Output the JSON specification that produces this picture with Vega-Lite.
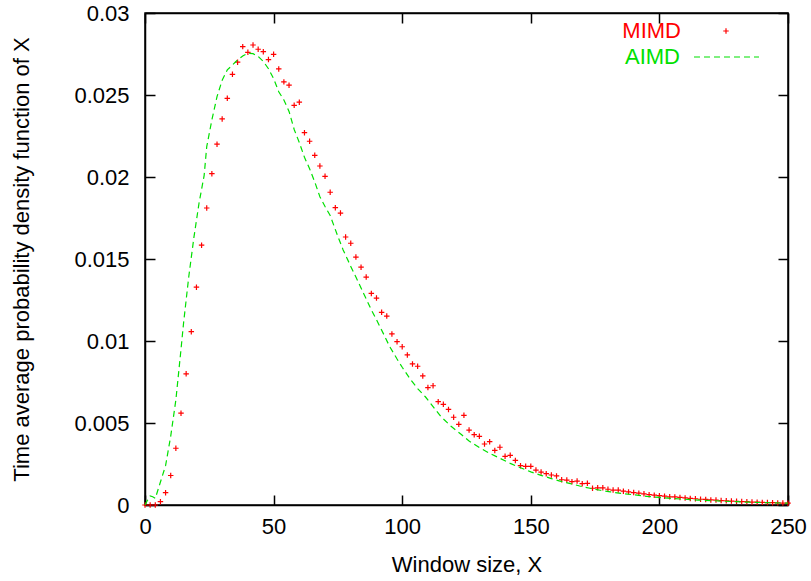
{
  "$schema": "https://vega.github.io/schema/vega-lite/v6.json",
  "width": 643,
  "height": 492,
  "autosize": {"type": "none"},
  "padding": {"left": 145, "top": 13, "right": 23, "bottom": 76},
  "background": "white",
  "config": {
    "font": "Liberation Sans",
    "view": {"stroke": "black", "strokeWidth": 1.5},
    "axis": {
      "grid": false,
      "domainColor": "black",
      "domainWidth": 1.5,
      "tickColor": "black",
      "tickWidth": 1.5,
      "tickSize": -10,
      "labelFont": "Liberation Sans",
      "labelFontSize": 22,
      "labelColor": "black",
      "titleFont": "Liberation Sans",
      "titleFontSize": 22,
      "titleFontWeight": "normal",
      "titleColor": "black"
    },
    "legend": {"labelFont": "Liberation Sans", "labelFontSize": 22}
  },
  "data": {
    "values": [
      {"x": 0, "y": 0, "series": "MIMD"}, {"x": 2, "y": 0, "series": "MIMD"}, {"x": 4, "y": 0, "series": "MIMD"}, {"x": 6, "y": 0.0002, "series": "MIMD"}, {"x": 8, "y": 0.00075, "series": "MIMD"}, {"x": 10, "y": 0.0018, "series": "MIMD"}, {"x": 12, "y": 0.00346, "series": "MIMD"}, {"x": 14, "y": 0.0056, "series": "MIMD"}, {"x": 16, "y": 0.008, "series": "MIMD"}, {"x": 18, "y": 0.01057, "series": "MIMD"}, {"x": 20, "y": 0.01328, "series": "MIMD"}, {"x": 22, "y": 0.01584, "series": "MIMD"}, {"x": 24, "y": 0.01811, "series": "MIMD"}, {"x": 26, "y": 0.0202, "series": "MIMD"}, {"x": 28, "y": 0.022, "series": "MIMD"}, {"x": 30, "y": 0.02354, "series": "MIMD"}, {"x": 32, "y": 0.0248, "series": "MIMD"}, {"x": 34, "y": 0.02626, "series": "MIMD"}, {"x": 36, "y": 0.027, "series": "MIMD"}, {"x": 38, "y": 0.02795, "series": "MIMD"}, {"x": 40, "y": 0.0276, "series": "MIMD"}, {"x": 42, "y": 0.02805, "series": "MIMD"}, {"x": 44, "y": 0.02779, "series": "MIMD"}, {"x": 46, "y": 0.02764, "series": "MIMD"}, {"x": 48, "y": 0.02716, "series": "MIMD"}, {"x": 50, "y": 0.02748, "series": "MIMD"}, {"x": 52, "y": 0.02659, "series": "MIMD"}, {"x": 54, "y": 0.0258, "series": "MIMD"}, {"x": 56, "y": 0.0256, "series": "MIMD"}, {"x": 58, "y": 0.02437, "series": "MIMD"}, {"x": 60, "y": 0.02456, "series": "MIMD"}, {"x": 62, "y": 0.0227, "series": "MIMD"}, {"x": 64, "y": 0.02218, "series": "MIMD"}, {"x": 66, "y": 0.02132, "series": "MIMD"}, {"x": 68, "y": 0.02067, "series": "MIMD"}, {"x": 70, "y": 0.02004, "series": "MIMD"}, {"x": 72, "y": 0.01907, "series": "MIMD"}, {"x": 74, "y": 0.01813, "series": "MIMD"}, {"x": 76, "y": 0.0178, "series": "MIMD"}, {"x": 78, "y": 0.01634, "series": "MIMD"}, {"x": 80, "y": 0.01596, "series": "MIMD"}, {"x": 82, "y": 0.01512, "series": "MIMD"}, {"x": 84, "y": 0.0145, "series": "MIMD"}, {"x": 86, "y": 0.0139, "series": "MIMD"}, {"x": 88, "y": 0.0129, "series": "MIMD"}, {"x": 90, "y": 0.01262, "series": "MIMD"}, {"x": 92, "y": 0.01175, "series": "MIMD"}, {"x": 94, "y": 0.01152, "series": "MIMD"}, {"x": 96, "y": 0.01043, "series": "MIMD"}, {"x": 98, "y": 0.00996, "series": "MIMD"}, {"x": 100, "y": 0.00965, "series": "MIMD"}, {"x": 102, "y": 0.00915, "series": "MIMD"}, {"x": 104, "y": 0.0086, "series": "MIMD"}, {"x": 106, "y": 0.00846, "series": "MIMD"}, {"x": 108, "y": 0.00787, "series": "MIMD"}, {"x": 110, "y": 0.00716, "series": "MIMD"}, {"x": 112, "y": 0.00727, "series": "MIMD"}, {"x": 114, "y": 0.0063, "series": "MIMD"}, {"x": 116, "y": 0.00614, "series": "MIMD"}, {"x": 118, "y": 0.00583, "series": "MIMD"}, {"x": 120, "y": 0.00535, "series": "MIMD"}, {"x": 122, "y": 0.00492, "series": "MIMD"}, {"x": 124, "y": 0.00547, "series": "MIMD"}, {"x": 126, "y": 0.00457, "series": "MIMD"}, {"x": 128, "y": 0.00429, "series": "MIMD"}, {"x": 130, "y": 0.00419, "series": "MIMD"}, {"x": 132, "y": 0.00372, "series": "MIMD"}, {"x": 134, "y": 0.00386, "series": "MIMD"}, {"x": 136, "y": 0.00333, "series": "MIMD"}, {"x": 138, "y": 0.00352, "series": "MIMD"}, {"x": 140, "y": 0.00297, "series": "MIMD"}, {"x": 142, "y": 0.00303, "series": "MIMD"}, {"x": 144, "y": 0.00272, "series": "MIMD"}, {"x": 146, "y": 0.0024, "series": "MIMD"}, {"x": 148, "y": 0.00236, "series": "MIMD"}, {"x": 150, "y": 0.00236, "series": "MIMD"}, {"x": 152, "y": 0.00213, "series": "MIMD"}, {"x": 154, "y": 0.00201, "series": "MIMD"}, {"x": 156, "y": 0.00191, "series": "MIMD"}, {"x": 158, "y": 0.00183, "series": "MIMD"}, {"x": 160, "y": 0.00177, "series": "MIMD"}, {"x": 162, "y": 0.00154, "series": "MIMD"}, {"x": 164, "y": 0.00152, "series": "MIMD"}, {"x": 166, "y": 0.00142, "series": "MIMD"}, {"x": 168, "y": 0.00146, "series": "MIMD"}, {"x": 170, "y": 0.0013, "series": "MIMD"}, {"x": 172, "y": 0.00132, "series": "MIMD"}, {"x": 174, "y": 0.00102, "series": "MIMD"}, {"x": 176, "y": 0.00105, "series": "MIMD"}, {"x": 178, "y": 0.00105, "series": "MIMD"}, {"x": 180, "y": 0.00096, "series": "MIMD"}, {"x": 182, "y": 0.00091, "series": "MIMD"}, {"x": 184, "y": 0.00091, "series": "MIMD"}, {"x": 186, "y": 0.00084, "series": "MIMD"}, {"x": 188, "y": 0.0008, "series": "MIMD"}, {"x": 190, "y": 0.00076, "series": "MIMD"}, {"x": 192, "y": 0.00072, "series": "MIMD"}, {"x": 194, "y": 0.00068, "series": "MIMD"}, {"x": 196, "y": 0.00063, "series": "MIMD"}, {"x": 198, "y": 0.0006, "series": "MIMD"}, {"x": 200, "y": 0.00057, "series": "MIMD"}, {"x": 202, "y": 0.00054, "series": "MIMD"}, {"x": 204, "y": 0.0005, "series": "MIMD"}, {"x": 206, "y": 0.00049, "series": "MIMD"}, {"x": 208, "y": 0.00046, "series": "MIMD"}, {"x": 210, "y": 0.00043, "series": "MIMD"}, {"x": 212, "y": 0.0004, "series": "MIMD"}, {"x": 214, "y": 0.00038, "series": "MIMD"}, {"x": 216, "y": 0.00035, "series": "MIMD"}, {"x": 218, "y": 0.00034, "series": "MIMD"}, {"x": 220, "y": 0.00031, "series": "MIMD"}, {"x": 222, "y": 0.0003, "series": "MIMD"}, {"x": 224, "y": 0.00027, "series": "MIMD"}, {"x": 226, "y": 0.00026, "series": "MIMD"}, {"x": 228, "y": 0.00024, "series": "MIMD"}, {"x": 230, "y": 0.00023, "series": "MIMD"}, {"x": 232, "y": 0.00021, "series": "MIMD"}, {"x": 234, "y": 0.0002, "series": "MIMD"}, {"x": 236, "y": 0.00018, "series": "MIMD"}, {"x": 238, "y": 0.00017, "series": "MIMD"}, {"x": 240, "y": 0.00016, "series": "MIMD"}, {"x": 242, "y": 0.00015, "series": "MIMD"}, {"x": 244, "y": 0.00014, "series": "MIMD"}, {"x": 246, "y": 0.00013, "series": "MIMD"}, {"x": 248, "y": 0.00012, "series": "MIMD"}, {"x": 250, "y": 0.00011, "series": "MIMD"},
      {"x": 0, "y": 0, "series": "AIMD"}, {"x": 1, "y": 0.0003, "series": "AIMD"}, {"x": 2, "y": 0.00055, "series": "AIMD"}, {"x": 3, "y": 0.0005, "series": "AIMD"}, {"x": 4, "y": 0.0004, "series": "AIMD"}, {"x": 5, "y": 0.0009, "series": "AIMD"}, {"x": 6, "y": 0.0014, "series": "AIMD"}, {"x": 8, "y": 0.0024, "series": "AIMD"}, {"x": 10, "y": 0.0042, "series": "AIMD"}, {"x": 12, "y": 0.0064, "series": "AIMD"}, {"x": 14, "y": 0.0095, "series": "AIMD"}, {"x": 15, "y": 0.0111, "series": "AIMD"}, {"x": 17, "y": 0.0139, "series": "AIMD"}, {"x": 19, "y": 0.0163, "series": "AIMD"}, {"x": 21, "y": 0.0184, "series": "AIMD"}, {"x": 23, "y": 0.0201, "series": "AIMD"}, {"x": 24, "y": 0.02185, "series": "AIMD"}, {"x": 26, "y": 0.02348, "series": "AIMD"}, {"x": 28, "y": 0.0249, "series": "AIMD"}, {"x": 30, "y": 0.0259, "series": "AIMD"}, {"x": 32, "y": 0.02653, "series": "AIMD"}, {"x": 34, "y": 0.02683, "series": "AIMD"}, {"x": 36, "y": 0.02714, "series": "AIMD"}, {"x": 38, "y": 0.02738, "series": "AIMD"}, {"x": 40, "y": 0.02754, "series": "AIMD"}, {"x": 42, "y": 0.02752, "series": "AIMD"}, {"x": 44, "y": 0.02735, "series": "AIMD"}, {"x": 46, "y": 0.02705, "series": "AIMD"}, {"x": 48, "y": 0.0266, "series": "AIMD"}, {"x": 50, "y": 0.026, "series": "AIMD"}, {"x": 52, "y": 0.0252, "series": "AIMD"}, {"x": 54, "y": 0.0247, "series": "AIMD"}, {"x": 56, "y": 0.024, "series": "AIMD"}, {"x": 58, "y": 0.0229, "series": "AIMD"}, {"x": 60, "y": 0.0221, "series": "AIMD"}, {"x": 62, "y": 0.0212, "series": "AIMD"}, {"x": 64, "y": 0.0205, "series": "AIMD"}, {"x": 66, "y": 0.0197, "series": "AIMD"}, {"x": 68, "y": 0.0188, "series": "AIMD"}, {"x": 70, "y": 0.0182, "series": "AIMD"}, {"x": 72, "y": 0.01765, "series": "AIMD"}, {"x": 75, "y": 0.01637, "series": "AIMD"}, {"x": 77, "y": 0.01557, "series": "AIMD"}, {"x": 80, "y": 0.01455, "series": "AIMD"}, {"x": 82, "y": 0.0139, "series": "AIMD"}, {"x": 85, "y": 0.0129, "series": "AIMD"}, {"x": 88, "y": 0.0119, "series": "AIMD"}, {"x": 90, "y": 0.0113, "series": "AIMD"}, {"x": 93, "y": 0.01035, "series": "AIMD"}, {"x": 95, "y": 0.0097, "series": "AIMD"}, {"x": 98, "y": 0.0089, "series": "AIMD"}, {"x": 100, "y": 0.0084, "series": "AIMD"}, {"x": 103, "y": 0.0077, "series": "AIMD"}, {"x": 106, "y": 0.0071, "series": "AIMD"}, {"x": 109, "y": 0.0066, "series": "AIMD"}, {"x": 111, "y": 0.0062, "series": "AIMD"}, {"x": 115, "y": 0.0054, "series": "AIMD"}, {"x": 119, "y": 0.0048, "series": "AIMD"}, {"x": 123, "y": 0.0043, "series": "AIMD"}, {"x": 126, "y": 0.0039, "series": "AIMD"}, {"x": 130, "y": 0.0035, "series": "AIMD"}, {"x": 134, "y": 0.00315, "series": "AIMD"}, {"x": 138, "y": 0.00285, "series": "AIMD"}, {"x": 142, "y": 0.00254, "series": "AIMD"}, {"x": 146, "y": 0.00227, "series": "AIMD"}, {"x": 150, "y": 0.00202, "series": "AIMD"}, {"x": 154, "y": 0.00181, "series": "AIMD"}, {"x": 158, "y": 0.00161, "series": "AIMD"}, {"x": 161, "y": 0.00147, "series": "AIMD"}, {"x": 165, "y": 0.00132, "series": "AIMD"}, {"x": 169, "y": 0.00116, "series": "AIMD"}, {"x": 173, "y": 0.00102, "series": "AIMD"}, {"x": 177, "y": 0.0009, "series": "AIMD"}, {"x": 181, "y": 0.0008, "series": "AIMD"}, {"x": 185, "y": 0.00071, "series": "AIMD"}, {"x": 189, "y": 0.00064, "series": "AIMD"}, {"x": 195, "y": 0.00053, "series": "AIMD"}, {"x": 200, "y": 0.00046, "series": "AIMD"}, {"x": 205, "y": 0.0004, "series": "AIMD"}, {"x": 210, "y": 0.00035, "series": "AIMD"}, {"x": 215, "y": 0.0003, "series": "AIMD"}, {"x": 220, "y": 0.00027, "series": "AIMD"}, {"x": 225, "y": 0.00023, "series": "AIMD"}, {"x": 230, "y": 0.0002, "series": "AIMD"}, {"x": 235, "y": 0.00017, "series": "AIMD"}, {"x": 240, "y": 0.00015, "series": "AIMD"}, {"x": 245, "y": 0.00013, "series": "AIMD"}, {"x": 250, "y": 0.00011, "series": "AIMD"}
    ]
  },
  "layer": [
    {
      "transform": [{"filter": "datum.series === 'MIMD'"}],
      "mark": {"type": "point", "filled": false, "size": 30, "strokeWidth": 1.2, "opacity": 1, "color": "#ff0000"},
      "encoding": {
        "x": {"field": "x", "type": "quantitative", "scale": {"domain": [0, 250], "nice": false, "zero": false},
              "axis": {"title": "Window size, X", "values": [0, 50, 100, 150, 200, 250], "labelPadding": 21, "titlePadding": 17, "labelFlush": false}},
        "y": {"field": "y", "type": "quantitative", "scale": {"domain": [0, 0.03], "nice": false, "zero": false},
              "axis": {"title": "Time average probability density function of X", "values": [0, 0.005, 0.01, 0.015, 0.02, 0.025, 0.03], "format": "~g", "labelPadding": 26, "titlePadding": 40, "labelFlush": false}},
        "shape": {"field": "series", "type": "nominal",
                  "scale": {"domain": ["MIMD"], "range": ["M-1,0L1,0M0,-1L0,1"]},
                  "legend": {
                    "orient": "none", "legendX": 570, "legendY": 7, "title": null,
                    "symbolSize": 30, "symbolStrokeWidth": 1.2,
                    "symbolStrokeColor": "#ff0000", "symbolFillColor": "transparent",
                    "labelAlign": "right", "labelOffset": -56,
                    "labelFontSize": 22, "labelColor": "#ff0000"
                  }}
      }
    },
    {
      "transform": [{"filter": "datum.series === 'AIMD'"}],
      "mark": {"type": "line", "strokeWidth": 1.2, "color": "#00e000"},
      "encoding": {
        "x": {"field": "x", "type": "quantitative", "axis": {"orient": "top", "labels": false, "title": null, "values": [0, 50, 100, 150, 200, 250]}},
        "y": {"field": "y", "type": "quantitative", "axis": {"orient": "right", "labels": false, "title": null, "values": [0, 0.005, 0.01, 0.015, 0.02, 0.025, 0.03]}},
        "strokeDash": {"field": "series", "type": "nominal",
                  "scale": {"domain": ["AIMD"], "range": [[6, 4]]},
                  "legend": {
                    "orient": "none", "legendX": 548, "legendY": 10.5, "title": null,
                    "symbolType": "stroke", "symbolSize": 4225, "symbolStrokeWidth": 1.2,
                    "symbolStrokeColor": "#00e000",
                    "labelAlign": "right", "labelOffset": -80,
                    "labelFontSize": 22, "labelColor": "#00e000"
                  }}
      }
    }
  ],
  "resolve": {"axis": {"x": "independent", "y": "independent"}}
}
